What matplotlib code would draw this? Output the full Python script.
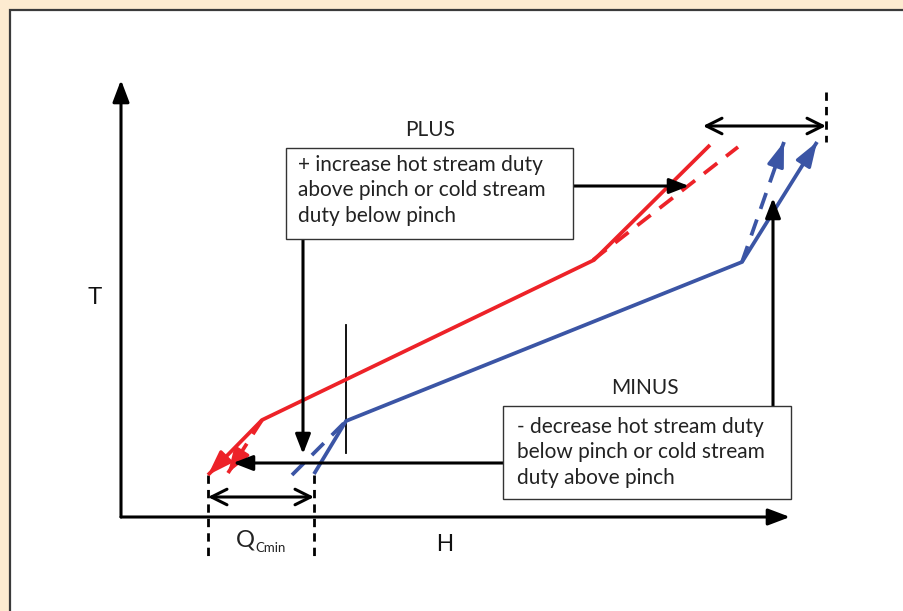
import numpy as np
import matplotlib.pyplot as plt
from matplotlib.patches import Rectangle

# Composite curves on the H-T plane (H from the T axis, T up from the H axis)
hot_H = [87, 141, 473, 589]
hot_T = [42, 97, 257, 372]
hot_low_shift_H = [141, 107]
hot_low_shift_T = [97, 44]
hot_high_shift_H = [472, 617]
hot_high_shift_T = [257, 370]

cold_H = [193, 225, 621, 696]
cold_T = [43, 96, 255, 375]
cold_low_shift_H = [171, 225]
cold_low_shift_T = [42, 96]
cold_high_shift_H = [621, 663]
cold_high_shift_T = [255, 375]

pinch_H = 225
pinch_T = [64, 192]
qcmin_H = [87, 193]

plus_label = "PLUS"
plus_text = ["+ increase hot stream duty", "above pinch or cold stream", "duty below pinch"]
minus_label = "MINUS"
minus_text = ["- decrease hot stream duty", "below pinch or cold stream", "duty above pinch"]

RED = "#ed2228"
BLUE = "#3b55a5"
CREAM = "#fdebd0"

fig = plt.figure(figsize=(9.04, 6.11), dpi=100, facecolor=CREAM)
ax = fig.add_axes([0, 0, 1, 1])
ax.set_xlim(-121, 783)
ax.set_ylim(-94, 517)
ax.axis("off")

# white panel with dark border
ax.add_patch(Rectangle((10 / 904, -0.1), 1.2, (601 / 611) + 0.1, transform=ax.transAxes,
                       facecolor="white", edgecolor="#3a3a3a", lw=1.6, zorder=0))


def head(x, y, color, back=12):
    # filled arrow head at the last point of a polyline
    p1 = np.array([x[-1], y[-1]], float)
    p0 = np.array([x[-2], y[-2]], float)
    d = (p1 - p0) / np.linalg.norm(p1 - p0)
    ax.annotate("", xy=p1, xytext=p1 - back * d,
                arrowprops=dict(arrowstyle="-|>,head_length=1.05,head_width=0.36",
                                color=color, lw=2.4, shrinkA=0, shrinkB=0,
                                mutation_scale=14), zorder=4)


def curve(x, y, color, dashed=False, arrow=False):
    ls = (0, (4.5, 3)) if dashed else "-"
    ax.plot(x, y, color=color, lw=2.7, ls=ls, solid_joinstyle="miter",
            solid_capstyle="butt", dash_capstyle="butt", zorder=3)
    if arrow:
        head(x, y, color)


# hot curve: arrow at the low end, shifted segments dashed
curve(hot_H, hot_T, RED)
head([hot_H[1], hot_H[0]], [hot_T[1], hot_T[0]], RED)
curve(hot_low_shift_H, hot_low_shift_T, RED, dashed=True, arrow=True)
curve(hot_high_shift_H, hot_high_shift_T, RED, dashed=True)

# cold curve: arrow at the top end
curve(cold_H, cold_T, BLUE, arrow=True)
curve(cold_low_shift_H, cold_low_shift_T, BLUE, dashed=True)
curve(cold_high_shift_H, cold_high_shift_T, BLUE, dashed=True, arrow=True)

# pinch marker
ax.plot([pinch_H, pinch_H], pinch_T, color="black", lw=1.3, zorder=2)

# axes with arrow heads
axis_kw = dict(arrowstyle="-|>,head_length=0.95,head_width=0.36", color="black",
               lw=2.2, shrinkA=0, shrinkB=0, mutation_scale=14)
ax.annotate("", xy=(0, 437), xytext=(0, 0), arrowprops=axis_kw)
ax.annotate("", xy=(669, 0), xytext=(0, 0), arrowprops=axis_kw)
ax.text(-26, 219, "T", fontsize=17, family="Liberation Sans", ha="center", va="center",
        color="#111111")
ax.text(324, -28, "H", fontsize=17, family="Liberation Sans", ha="center", va="center",
        color="#111111")

# Q_Cmin span
dash_kw = dict(color="black", lw=2.0, ls=(0, (3, 2.2)), dash_capstyle="butt")
for h in qcmin_H:
    ax.plot([h, h], [42, -43], **dash_kw)
dbl_kw = dict(arrowstyle="<->,head_length=0.8,head_width=0.4", color="black",
              lw=2.2, shrinkA=0, shrinkB=0, mutation_scale=14)
ax.annotate("", xy=(qcmin_H[0], 20), xytext=(qcmin_H[1], 20), arrowprops=dbl_kw)
ax.text(115, -30, "Q", fontsize=17, family="Lato", ha="left", va="baseline", color="#222222")
ax.text(134, -35, "Cmin", fontsize=9.5, family="Lato", ha="left", va="baseline",
        color="#222222")

# top span between the curve ends
ax.plot([705, 705], [425, 375], **dash_kw)
ax.annotate("", xy=(582, 391), xytext=(705, 391), arrowprops=dbl_kw)

# PLUS box
txt_kw = dict(fontsize=15, family="Lato", color="#222222")
ax.text(309, 387, plus_label, ha="center", va="center", **txt_kw)
ax.add_patch(Rectangle((165, 278), 287, 91, facecolor="white", edgecolor="#333333",
                       lw=1.0, zorder=5))
for i, line in enumerate(plus_text):
    ax.text(177, 352 - i * 25.5, line, ha="left", va="center", zorder=6, **txt_kw)

arr_kw = dict(arrowstyle="-|>,head_length=0.85,head_width=0.33", color="black",
              lw=2.2, shrinkA=0, shrinkB=0, mutation_scale=14)
ax.annotate("", xy=(568, 331), xytext=(452, 331), arrowprops=arr_kw, zorder=4)
ax.annotate("", xy=(182, 63), xytext=(182, 278), arrowprops=arr_kw, zorder=4)

# MINUS box
ax.text(524, 129, minus_label, ha="center", va="center", **txt_kw)
ax.add_patch(Rectangle((382, 18), 288, 93, facecolor="white", edgecolor="#333333",
                       lw=1.0, zorder=5))
for i, line in enumerate(minus_text):
    ax.text(396, 90 - i * 25.5, line, ha="left", va="center", zorder=6, **txt_kw)

ax.annotate("", xy=(112, 54), xytext=(382, 54), arrowprops=arr_kw, zorder=4)
ax.annotate("", xy=(652, 319), xytext=(652, 111), arrowprops=arr_kw, zorder=4)

fig.savefig("out.png", dpi=100, facecolor=CREAM)
